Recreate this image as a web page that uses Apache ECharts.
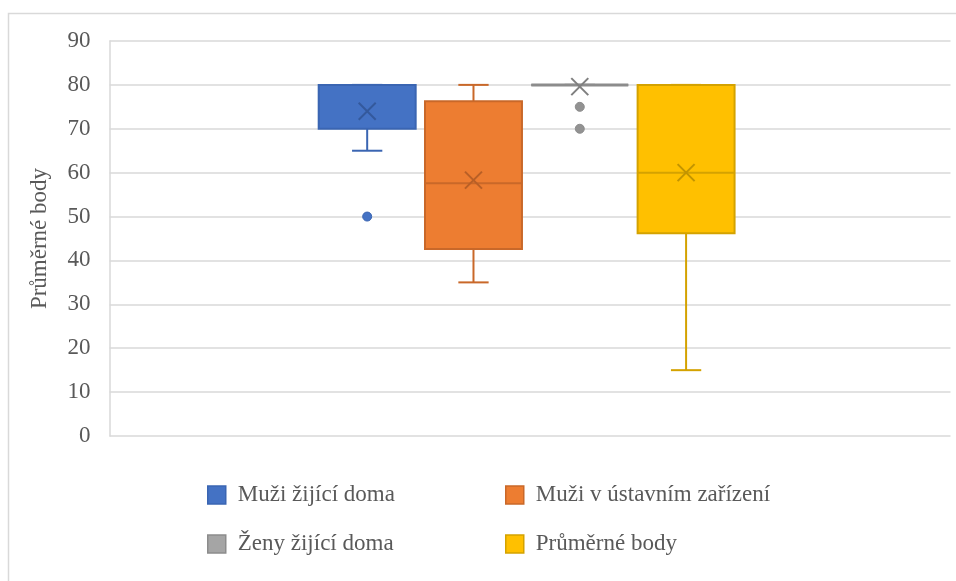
<!DOCTYPE html>
<html>
<head>
<meta charset="utf-8">
<script src="https://cdn.jsdelivr.net/npm/echarts@6/dist/echarts.min.js"></script>
<style>
  html, body { margin: 0; padding: 0; background: #ffffff; }
  #chart { width: 956px; height: 581px; }
</style>
</head>
<body>
<div id="chart"></div>
<script>
// Box-and-whisker summary per group (Průměrné body)
const categories = ['Muži žijící doma', 'Muži v ústavním zařízení', 'Ženy žijící doma', 'Průměrné body'];
const whiskerLow  = [65, 35, 80, 15];
const quartile1   = [70, 42.6, 80, 46.2];
const medians     = [80, 57.6, 80, 60];
const quartile3   = [80, 76.3, 80, 80];
const whiskerHigh = [80, 80, 80, 80];
const means       = [74, 58.3, 79.6, 60];
const outliers    = [[50], [], [75, 70], []];
const yTicks      = [0, 10, 20, 30, 40, 50, 60, 70, 80, 90];

// Styling
const fills   = ['#4472c4', '#ed7d31', '#a5a5a5', '#ffc000'];
const strokes = ['#3a65b2', '#c96829', '#8c8c8c', '#d4a200'];
const crosses = ['#34599c', '#b85f26', '#7f7f7f', '#c29400'];
const FONT = '"Liberation Serif", "Times New Roman", serif';
const TEXT = '#595959';

// Horizontal placement of each box inside the single category band (fractions of band width)
const groupCenter = -0.004;
const groupStep = 0.1264;
const boxFrac = 0.1153;
const capFrac = 0.036;

function centerX(api, k) {
  const band = api.size([1, 0])[0];
  return api.coord([0, 0])[0] + band * (groupCenter + (k - 1.5) * groupStep);
}

function boxRenderer(k) {
  return function (params, api) {
    const band = api.size([1, 0])[0];
    const cx = centerX(api, k);
    const half = band * boxFrac / 2;
    const cap = band * capFrac / 2;
    const y = v => api.coord([0, v])[1];
    const yLow = y(api.value(1)), yQ1 = y(api.value(2)), yMed = y(api.value(3));
    const yQ3 = y(api.value(4)), yHigh = y(api.value(5)), yMean = y(api.value(6));
    const line = { stroke: strokes[k], lineWidth: 2, fill: null };
    const flat = yQ1 - yQ3 < 1;
    const m = 8.5;
    return {
      type: 'group',
      children: [
        { type: 'line', shape: { x1: cx, y1: yQ1, x2: cx, y2: yLow }, style: line },
        { type: 'line', shape: { x1: cx, y1: yQ3, x2: cx, y2: yHigh }, style: line },
        { type: 'line', shape: { x1: cx - cap, y1: yLow, x2: cx + cap, y2: yLow }, style: line },
        { type: 'line', shape: { x1: cx - cap, y1: yHigh, x2: cx + cap, y2: yHigh }, style: line },
        { type: 'rect', shape: { x: cx - half, y: yQ3, width: half * 2, height: yQ1 - yQ3 },
          style: { fill: fills[k], stroke: strokes[k], lineWidth: flat ? 3 : 2 } },
        { type: 'line', shape: { x1: cx - half, y1: yMed, x2: cx + half, y2: yMed }, style: line },
        { type: 'line', shape: { x1: cx - m, y1: yMean - m, x2: cx + m, y2: yMean + m },
          style: { stroke: crosses[k], lineWidth: 2 } },
        { type: 'line', shape: { x1: cx - m, y1: yMean + m, x2: cx + m, y2: yMean - m },
          style: { stroke: crosses[k], lineWidth: 2 } }
      ]
    };
  };
}

function outlierRenderer(k) {
  return function (params, api) {
    const cx = centerX(api, k);
    const cy = api.coord([0, api.value(1)])[1];
    return {
      type: 'circle',
      shape: { cx: cx, cy: cy, r: 4.5 },
      style: { fill: k === 2 ? '#929292' : fills[k], stroke: strokes[k], lineWidth: 1 }
    };
  };
}

const series = [];
categories.forEach((name, k) => {
  series.push({
    name: name,
    type: 'custom',
    renderItem: boxRenderer(k),
    itemStyle: { color: fills[k], borderColor: strokes[k], borderWidth: 1.5 },
    encode: { x: 0, y: [1, 2, 3, 4, 5, 6] },
    data: [[0, whiskerLow[k], quartile1[k], medians[k], quartile3[k], whiskerHigh[k], means[k]]],
    z: 2
  });
  if (outliers[k].length) {
    series.push({
      name: name,
      type: 'custom',
      renderItem: outlierRenderer(k),
      itemStyle: { color: fills[k] },
      encode: { x: 0, y: 1 },
      data: outliers[k].map(v => [0, v]),
      z: 3
    });
  }
});

function legendItems(idx) {
  return idx.map(k => ({
    name: categories[k],
    itemStyle: { color: fills[k], borderColor: strokes[k], borderWidth: 1.5 }
  }));
}

const legendCommon = {
  orient: 'vertical',
  top: 483,
  padding: 0,
  itemWidth: 18,
  itemHeight: 18,
  itemGap: 25,
  selectedMode: false,
  icon: 'rect',
  textStyle: { fontFamily: FONT, fontSize: 23, color: TEXT, padding: [0, 0, 0, 7], lineHeight: 24 }
};

const chart = echarts.init(document.getElementById('chart'), null, { renderer: 'canvas' });
chart.setOption({
  backgroundColor: '#ffffff',
  animation: false,
  graphic: [{
    type: 'rect',
    silent: true,
    z: -10,
    shape: { x: 8.5, y: 13.5, width: 1000, height: 1000 },
    style: { fill: 'transparent', stroke: '#d9d9d9', lineWidth: 1.5 }
  }],
  grid: { left: 109.5, right: 5.5, top: 41, bottom: 145, containLabel: false },
  xAxis: {
    type: 'category',
    data: [''],
    axisLine: { show: false },
    axisTick: { show: false },
    axisLabel: { show: false },
    splitLine: { show: false }
  },
  yAxis: {
    type: 'value',
    min: yTicks[0],
    max: yTicks[yTicks.length - 1],
    interval: yTicks[1] - yTicks[0],
    name: 'Průměrné body',
    nameLocation: 'middle',
    nameGap: 58,
    nameTextStyle: { fontFamily: FONT, fontSize: 23, color: TEXT },
    axisLine: { show: true, lineStyle: { color: '#d9d9d9', width: 1.5 } },
    axisTick: { show: false },
    axisLabel: { fontFamily: FONT, fontSize: 23, color: TEXT, margin: 19 },
    splitLine: { show: true, lineStyle: { color: '#d9d9d9', width: 1.5 } }
  },
  legend: [
    Object.assign({}, legendCommon, { left: 207, data: legendItems([0, 2]) }),
    Object.assign({}, legendCommon, { left: 505, data: legendItems([1, 3]) })
  ],
  series: series
});
</script>
</body>
</html>
